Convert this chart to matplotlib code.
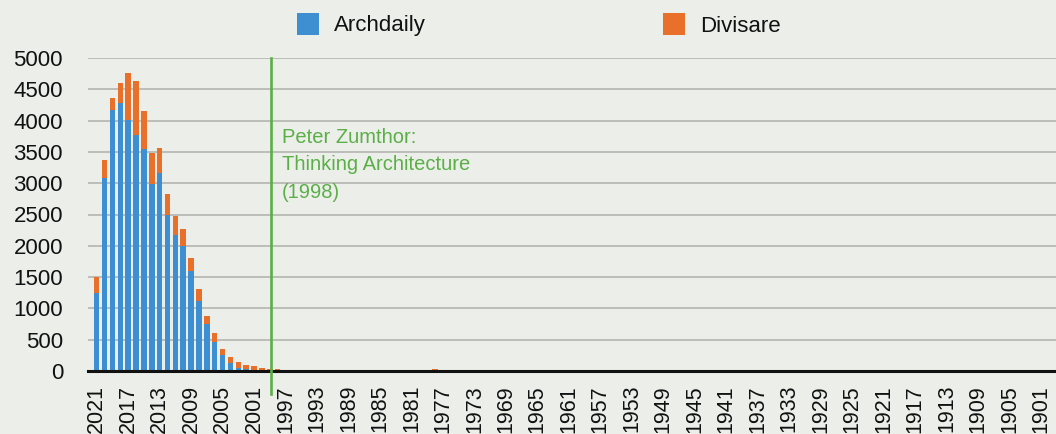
import numpy as np
import matplotlib
matplotlib.use("Agg")
import matplotlib.pyplot as plt
from matplotlib.patches import Rectangle

# Годы публикаций (по убыванию, как на оригинале)
years = list(range(2021, 1900, -1))

# Значения для 2021..1997
recent_years = list(range(2021, 1996, -1))
archdaily_recent = [1240, 3090, 4170, 4280, 4010, 3775, 3550, 2985, 3170, 2495,
                    2170, 2000, 1600, 1120, 745, 470, 255, 125, 55, 25,
                    10, 5, 0, 0, 0]
divisare_recent = [265, 280, 190, 325, 750, 850, 610, 490, 385, 330,
                   300, 270, 200, 185, 135, 130, 100, 100, 90, 70,
                   70, 45, 25, 25, 20]

# Редкие старые публикации Divisare
old_years = [1978, 1969, 1960]
divisare_old = [25, 20, 20]

event_year = 1998.9
event_label = "Peter Zumthor:\nThinking Architecture\n(1998)"

BLUE = "#3d8fd1"
ORANGE = "#e8702a"
GREEN = "#5aaf46"
BG = "#eceeea"

# Сборка полных рядов
archdaily = dict(zip(recent_years, archdaily_recent))
divisare = dict(zip(recent_years, divisare_recent))
divisare.update(dict(zip(old_years, divisare_old)))
a_vals = np.array([archdaily.get(y, 0) for y in years])
d_vals = np.array([divisare.get(y, 0) for y in years])

plt.rcParams['font.family'] = ['Liberation Sans', 'DejaVu Sans']

W, H = 1056, 434
fig = plt.figure(figsize=(W / 100, H / 100), dpi=100, facecolor=BG)
ax = fig.add_axes([88 / W, (H - 371) / H, (W - 88) / W, (371 - 58) / H])
ax.set_facecolor(BG)

ax.bar(years, a_vals, width=0.7, color=BLUE, zorder=3)
ax.bar(years, d_vals, width=0.7, bottom=a_vals, color=ORANGE, zorder=3)

ax.set_xlim(2022.1, 1899.1)
ax.set_ylim(0, 5000)
ax.set_yticks(range(0, 5001, 500))
ax.set_xticks(range(2021, 1900, -4))
ax.set_xticklabels([str(y) for y in range(2021, 1900, -4)], rotation=90)
ax.tick_params(axis='y', length=0, pad=18, labelsize=16, labelcolor='#111111')
ax.tick_params(axis='x', length=0, pad=10, labelsize=15.5, labelcolor='#111111')
for lbl in ax.get_xticklabels():
    lbl.set_verticalalignment('top')

ax.grid(axis='y', color='#bcbcb8', linewidth=1.4, zorder=0)
for s in ['top', 'right', 'left']:
    ax.spines[s].set_visible(False)
ax.spines['bottom'].set_color('#111111')
ax.spines['bottom'].set_linewidth(2.2)
ax.spines['bottom'].set_zorder(4)

# Линия события
ax.axvline(event_year, ymin=-0.075, ymax=1, color=GREEN, linewidth=1.9,
           clip_on=False, zorder=5)
ax.text(event_year - 1.4, 3880, event_label, color=GREEN, fontsize=14.5,
        va='top', ha='left', linespacing=1.55, zorder=6)

# Легенда
for x0, col, name in [(297, BLUE, "Archdaily"), (663, ORANGE, "Divisare")]:
    fig.add_artist(Rectangle((x0 / W, (H - 35) / H), 22 / W, 22 / H,
                             transform=fig.transFigure, color=col, lw=0))
    fig.text((x0 + 37) / W, (H - 26) / H, name, fontsize=16,
             va='center', ha='left', color='#111111')

fig.savefig("out.png", dpi=100, facecolor=BG)
